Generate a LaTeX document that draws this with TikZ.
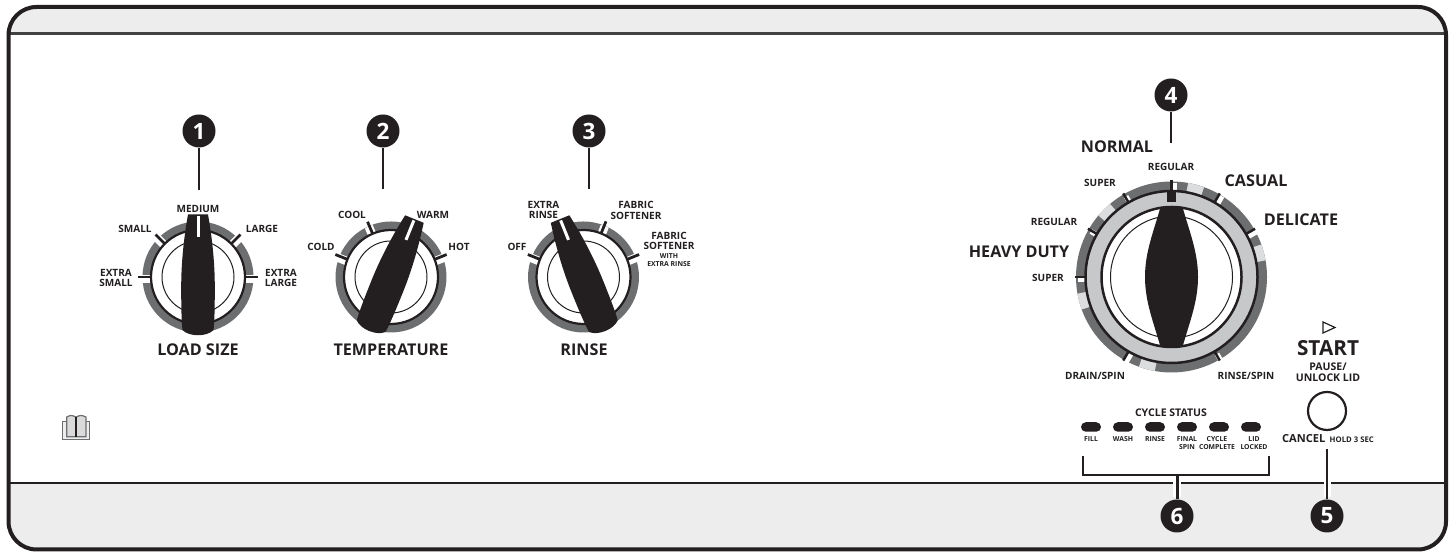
\documentclass[tikz,border=0pt]{standalone}
\usepackage{fontspec}
\setmainfont{Open Sans}
\usetikzlibrary{arrows.meta, positioning, calc, shapes.misc}
\definecolor{inkblack}{HTML}{231F20}
\definecolor{ringgray}{HTML}{6D6E70}
\definecolor{ringlight}{HTML}{DCDDDE}
\definecolor{dialgray}{HTML}{C7C8CA}
\definecolor{bandgray}{HTML}{EDEDEE}
\definecolor{bookgray}{HTML}{6D6E70}
\newcommand{\fsize}[1]{\fontsize{#1}{#1}\selectfont\bfseries}
\tikzset{
  lblmini/.style={text=inkblack, inner sep=0pt, align=center, font=\fontsize{1.95}{2.3}\selectfont\bfseries},
  lblsmall/.style={text=inkblack, inner sep=0pt, align=center, font=\fontsize{2.85}{2.95}\selectfont\bfseries},
  lblmid/.style={text=inkblack, inner sep=0pt, align=center, font=\fontsize{3}{3.15}\selectfont\bfseries},
  lblbig/.style={text=inkblack, inner sep=0pt, align=center, font=\fontsize{4.6}{5}\selectfont\bfseries},
  callout/.style={circle, fill=inkblack, text=white, inner sep=0pt, minimum size=3.3mm, font=\fontsize{6.4}{7}\selectfont\bfseries},
  leader/.style={inkblack, line width=0.2mm},
  ledbar/.style={rounded rectangle, fill=inkblack, inner sep=0pt, minimum width=2mm, minimum height=0.95mm},
}

% small dial: centre, pointer turn, tick angles
\newcommand{\smalldial}[3]{
  \begin{scope}[shift={#1}]
    \draw[ringgray, line width=0.8mm] (0,0) circle (0.515);
    \foreach \a in {#3} {
      \draw[white, line width=0.85mm, yshift=-0.2mm] (\a:0.46) -- (\a:0.57);
      \draw[inkblack, line width=0.28mm] (\a:0.45) -- (\a:0.6);
    }
    \draw[inkblack, fill=white, line width=0.22mm] (0,0) circle (0.47);
    \draw[inkblack, line width=0.1mm] (0,0) circle (0.36);
    \begin{scope}[rotate=#2]
      \fill[inkblack] (-0.10,0.625) .. controls (0,0.635) .. (0.10,0.625)
        .. controls (0.14,0.40) and (0.168,0.15) .. (0.168,-0.1)
        .. controls (0.168,-0.3) and (0.165,-0.45) .. (0.155,-0.53)
        .. controls (0.09,-0.60) and (-0.09,-0.60) .. (-0.155,-0.53)
        .. controls (-0.165,-0.45) and (-0.168,-0.3) .. (-0.168,-0.1)
        .. controls (-0.168,0.15) and (-0.14,0.40) .. (-0.10,0.625) -- cycle;
      \draw[white, line width=0.3mm] (0,0.61) -- (0,0.40);
    \end{scope}
  \end{scope}
}

\begin{document}
\begin{tikzpicture}
\useasboundingbox (0,0) rectangle (14.52,5.52);

% Panel bands and frame
\begin{scope}
  \clip[rounded corners=2.8mm] (0.085,0.025) rectangle (14.46,5.45);
  \fill[bandgray] (0,5.185) rectangle (14.52,5.52);
  \fill[bandgray] (0,0) rectangle (14.52,0.69);
\end{scope}
\draw[inkblack!85, line width=0.25mm] (0.085,5.185) -- (14.46,5.185);
\draw[inkblack, line width=0.25mm] (0.085,0.69) -- (14.46,0.69);
\draw[inkblack, line width=0.4mm, rounded corners=2.8mm] (0.085,0.025) rectangle (14.46,5.45);

% Small dials
\smalldial{(1.98,2.75)}{0}{180,135,45,0}
\smalldial{(3.91,2.75)}{-22}{158,113,22}
\smalldial{(5.835,2.75)}{22}{158,68,22}

% Large dial
\begin{scope}[shift={(11.715,2.75)}]
  \draw[ringgray, line width=0.9mm] (0,0) circle (0.91);
  \foreach \a in {15,75,135,195,255} {
    \draw[ringlight, line width=0.9mm] ({\a-5}:0.91) arc[start angle=\a-5, end angle=\a+5, radius=0.91];
  }
  \foreach \a in {30,60,90,120,150,180,240,300} {
    \draw[white, line width=0.5mm, xshift=0.25mm, yshift=-0.25mm] (\a:0.86) -- (\a:0.96);
    \draw[inkblack, line width=0.25mm] (\a:0.84) -- (\a:0.965);
  }
  \draw[dialgray, line width=1.5mm] (0,0) circle (0.78);
  \draw[inkblack, line width=0.25mm] (0,0) circle (0.86);
  \draw[inkblack, fill=white, line width=0.25mm] (0,0) circle (0.70);
  \draw[inkblack, line width=0.1mm] (0,0) circle (0.61);
  \fill[inkblack] (-0.045,0.85) rectangle (0.045,0.745);
  \fill[inkblack] (-0.11,0.70) -- (0.11,0.70)
    .. controls (0.18,0.45) and (0.265,0.25) .. (0.265,0)
    .. controls (0.265,-0.25) and (0.18,-0.45) .. (0.11,-0.70)
    -- (-0.11,-0.70)
    .. controls (-0.18,-0.45) and (-0.265,-0.25) .. (-0.265,0)
    .. controls (-0.265,0.25) and (-0.18,0.45) .. (-0.11,0.70) -- cycle;
\end{scope}

% Load size labels
\node[lblsmall] (medium) at (1.98,3.43) {MEDIUM};
\node[lblsmall] (small) at (1.35,3.23) {SMALL};
\node[lblsmall] (large) at (2.62,3.23) {LARGE};
\node[lblsmall] (xsmall) at (1.16,2.74) {EXTRA\\SMALL};
\node[lblsmall] (xlarge) at (2.81,2.74) {EXTRA\\LARGE};
\node[lblbig] (loadsize) at (1.98,2.02) {LOAD SIZE};

% Temperature labels
\node[lblsmall] (cool) at (3.52,3.37) {COOL};
\node[lblsmall] (warm) at (4.33,3.37) {WARM};
\node[lblsmall] (cold) at (3.21,3.05) {COLD};
\node[lblsmall] (hot) at (4.59,3.05) {HOT};
\node[lblbig] (temperature) at (3.91,2.02) {TEMPERATURE};

% Rinse labels
\node[lblsmall] (xrinse) at (5.435,3.42) {EXTRA\\RINSE};
\node[lblsmall] (softener) at (6.36,3.415) {FABRIC\\SOFTENER};
\node[lblsmall] (off) at (5.17,3.05) {OFF};
\node[lblsmall] (softenerx) at (6.69,3.11) {FABRIC\\SOFTENER};
\node[lblmini] (withx) at (6.69,2.915) {WITH\\EXTRA RINSE};
\node[lblbig] (rinse) at (5.84,2.02) {RINSE};

% Cycle labels
\node[lblbig] (normal) at (11.17,4.05) {NORMAL};
\node[lblsmall] (regularA) at (11.71,3.85) {REGULAR};
\node[lblsmall] (superA) at (11.00,3.69) {SUPER};
\node[lblbig] (casual) at (12.56,3.71) {CASUAL};
\node[lblsmall] (regularB) at (10.54,3.30) {REGULAR};
\node[lblbig] (delicate) at (13.01,3.32) {DELICATE};
\node[lblbig] (heavy) at (10.19,3.00) {HEAVY DUTY};
\node[lblsmall] (superB) at (10.48,2.74) {SUPER};
\node[lblsmall] (drain) at (10.95,1.76) {DRAIN/SPIN};
\node[lblsmall] (rinsespin) at (12.46,1.76) {RINSE/SPIN};

% Start button
\draw[inkblack, line width=0.12mm] (13.23,2.30) -- (13.23,2.19) -- (13.35,2.245) -- cycle;
\node[lblbig, font=\fsize{5.9}] (start) at (13.28,2.04) {START};
\node[lblmid] (pause) at (13.28,1.795) {PAUSE/\\UNLOCK LID};
\node[circle, draw=inkblack, line width=0.22mm, minimum size=3.8mm, inner sep=0pt] (button) at (13.27,1.41) {};
\node[lblmid, font=\fsize{3.15}, anchor=east] (cancel) at (13.26,1.13) {CANCEL};
\node[lblmini, font=\fsize{2.2}, anchor=west] (hold) at (13.29,1.125) {HOLD 3 SEC};

% Cycle status lights
\node[lblmid] (status) at (11.71,1.39) {CYCLE STATUS};
\foreach \i/\px in {1/10.91,2/11.23,3/11.55,4/11.87,5/12.19,6/12.51} {
  \node[ledbar] (led\i) at (\px,1.25) {};
}
\node[lblmini] (fill) at (10.91,1.13) {FILL};
\node[lblmini] (wash) at (11.23,1.13) {WASH};
\node[lblmini] (rinselit) at (11.55,1.13) {RINSE};
\node[lblmini] (finalspin) at (11.87,1.09) {FINAL\\SPIN};
\node[lblmini] (complete) at (12.17,1.09) {CYCLE\\COMPLETE};
\node[lblmini] (locked) at (12.54,1.09) {LID\\LOCKED};

% Book symbol
\draw[bookgray, fill=bandgray, line width=0.12mm] (0.627,1.305) -- (0.627,1.127) -- (0.893,1.127) -- (0.893,1.305) -- cycle;
\draw[bookgray, fill=bandgray!85!bookgray, line width=0.12mm] (0.667,1.35) .. controls (0.71,1.37) .. (0.76,1.35) .. controls (0.81,1.37) .. (0.86,1.35) -- (0.86,1.153) -- (0.667,1.153) -- cycle;
\draw[inkblack, line width=0.12mm] (0.76,1.35) -- (0.76,1.153);

% Callouts
\node[callout] (c1) at (1.99,4.21) {1};
\coordinate (c1end) at (1.99,3.62);
\draw[leader] (c1) -- (c1end);
\node[callout] (c2) at (3.83,4.21) {2};
\coordinate (c2end) at (3.83,3.63);
\draw[leader] (c2) -- (c2end);
\node[callout] (c3) at (5.89,4.21) {3};
\coordinate (c3end) at (5.89,3.63);
\draw[leader] (c3) -- (c3end);
\node[callout] (c4) at (11.71,4.57) {4};
\coordinate (c4end) at (11.71,4.09);
\draw[leader] (c4) -- (c4end);

% Callout 5 and the bracket of callout 6, with a white edge where they cross the band line
\node[callout] (c5) at (13.27,0.36) {5};
\coordinate (c5end) at (13.27,1.03);
\draw[white, line width=0.7mm] (13.27,0.55) -- (c5end);
\draw[leader] (c5) -- (c5end);
\node[callout] (c6) at (11.77,0.36) {6};
\coordinate (c6end) at (11.77,0.77);
\coordinate (brL) at (10.83,0.96);
\coordinate (brR) at (12.69,0.96);
\coordinate (brLb) at (10.83,0.77);
\coordinate (brRb) at (12.69,0.77);
\draw[white, line width=0.8mm] (11.77,0.55) -- (c6end);
\draw[leader, line width=0.3mm] (c6) -- (c6end);
\draw[leader, line width=0.25mm] (brL) -- (brLb) -- (brRb) -- (brR);
\end{tikzpicture}
\end{document}
